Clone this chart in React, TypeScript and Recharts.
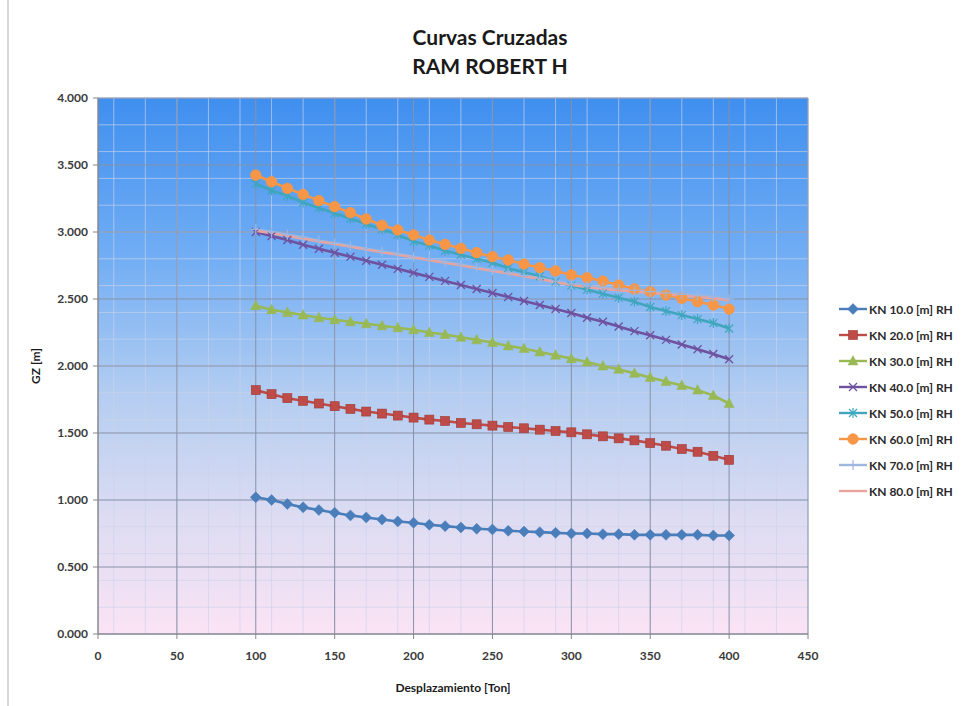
import React from 'react';
import { LineChart, Line, XAxis, YAxis, CartesianGrid } from 'recharts';

// ---- data ----
const DISPLACEMENT = [100, 110, 120, 130, 140, 150, 160, 170, 180, 190, 200, 210, 220, 230, 240, 250, 260, 270, 280, 290, 300, 310, 320, 330, 340, 350, 360, 370, 380, 390, 400];

const KN10 = [1.02, 1.0, 0.97, 0.945, 0.925, 0.905, 0.885, 0.87, 0.855, 0.84, 0.83, 0.815, 0.805, 0.795, 0.785, 0.78, 0.77, 0.765, 0.76, 0.755, 0.75, 0.75, 0.745, 0.745, 0.74, 0.74, 0.74, 0.74, 0.74, 0.735, 0.735];
const KN20 = [1.82, 1.79, 1.76, 1.74, 1.72, 1.7, 1.68, 1.66, 1.645, 1.63, 1.615, 1.6, 1.59, 1.575, 1.565, 1.555, 1.545, 1.535, 1.525, 1.515, 1.505, 1.49, 1.475, 1.46, 1.445, 1.425, 1.405, 1.38, 1.36, 1.33, 1.3];
const KN30 = [2.45, 2.42, 2.4, 2.38, 2.36, 2.345, 2.33, 2.315, 2.3, 2.285, 2.27, 2.25, 2.235, 2.215, 2.195, 2.175, 2.15, 2.13, 2.105, 2.08, 2.055, 2.03, 2.0, 1.975, 1.945, 1.915, 1.885, 1.855, 1.82, 1.78, 1.72];
const KN40 = [3.0, 2.97, 2.94, 2.905, 2.875, 2.845, 2.815, 2.785, 2.755, 2.725, 2.695, 2.665, 2.635, 2.605, 2.575, 2.545, 2.515, 2.485, 2.455, 2.425, 2.395, 2.36, 2.33, 2.295, 2.26, 2.23, 2.195, 2.16, 2.125, 2.09, 2.05];
const KN50 = [3.36, 3.31, 3.27, 3.22, 3.18, 3.14, 3.1, 3.06, 3.02, 2.98, 2.93, 2.9, 2.86, 2.83, 2.8, 2.77, 2.73, 2.7, 2.67, 2.63, 2.6, 2.57, 2.54, 2.51, 2.48, 2.44, 2.41, 2.38, 2.35, 2.32, 2.28];
const KN60 = [3.425, 3.375, 3.326, 3.281, 3.234, 3.189, 3.144, 3.097, 3.05, 3.015, 2.978, 2.94, 2.908, 2.878, 2.846, 2.816, 2.791, 2.761, 2.734, 2.709, 2.679, 2.659, 2.634, 2.604, 2.575, 2.555, 2.53, 2.505, 2.48, 2.455, 2.425];
const KN70 = [3.02, 3.0, 2.98, 2.96, 2.935, 2.915, 2.895, 2.875, 2.855, 2.835, 2.815, 2.795, 2.775, 2.755, 2.735, 2.715, 2.695, 2.675, 2.655, 2.632, 2.612, 2.597, 2.585, 2.575, 2.565, 2.555, 2.545, 2.535, 2.525, 2.515, 2.5];
const KN80 = [3.01, 2.99, 2.97, 2.95, 2.93, 2.91, 2.89, 2.87, 2.85, 2.83, 2.81, 2.79, 2.77, 2.75, 2.73, 2.71, 2.69, 2.67, 2.65, 2.625, 2.605, 2.59, 2.575, 2.565, 2.555, 2.545, 2.535, 2.525, 2.515, 2.505, 2.49];

const X_TICKS = [0, 50, 100, 150, 200, 250, 300, 350, 400, 450];
const Y_TICKS = [0, 0.5, 1, 1.5, 2, 2.5, 3, 3.5, 4];
const X_MINOR_STEP = 10;
const Y_MINOR_STEP = 0.1;

const TITLE_1 = 'Curvas Cruzadas';
const TITLE_2 = 'RAM ROBERT H';
const X_LABEL = 'Desplazamiento [Ton]';
const Y_LABEL = 'GZ [m]';

type Shape = 'diamond' | 'square' | 'triangle' | 'x' | 'star' | 'circle' | 'plus' | 'none';

const SERIES: { key: string; name: string; color: string; shape: Shape; values: number[] }[] = [
  { key: 'kn10', name: 'KN 10.0 [m] RH', color: '#4A7EBB', shape: 'diamond', values: KN10 },
  { key: 'kn20', name: 'KN 20.0 [m] RH', color: '#BE4B48', shape: 'square', values: KN20 },
  { key: 'kn30', name: 'KN 30.0 [m] RH', color: '#98B954', shape: 'triangle', values: KN30 },
  { key: 'kn40', name: 'KN 40.0 [m] RH', color: '#6E52A0', shape: 'x', values: KN40 },
  { key: 'kn50', name: 'KN 50.0 [m] RH', color: '#3FA6BE', shape: 'star', values: KN50 },
  { key: 'kn60', name: 'KN 60.0 [m] RH', color: '#F79646', shape: 'circle', values: KN60 },
  { key: 'kn70', name: 'KN 70.0 [m] RH', color: '#9DB7E0', shape: 'plus', values: KN70 },
  { key: 'kn80', name: 'KN 80.0 [m] RH', color: '#E6A3A0', shape: 'none', values: KN80 },
];

const DATA = DISPLACEMENT.map((x, i) => {
  const row: Record<string, number> = { x };
  SERIES.forEach((s) => {
    row[s.key] = s.values[i];
  });
  return row;
});

const range = (start: number, end: number, step: number) => {
  const out: number[] = [];
  for (let i = 0; start + i * step <= end + 1e-9; i++) out.push(+(start + i * step).toFixed(4));
  return out;
};
const X_MINOR = range(0, 450, X_MINOR_STEP);
const Y_MINOR = range(0, 4, Y_MINOR_STEP);

const FONT = "Lato, 'Open Sans', 'DejaVu Sans', sans-serif";

function Marker({ shape, color, cx, cy }: { shape: Shape; color: string; cx: number; cy: number }) {
  switch (shape) {
    case 'diamond':
      return <polygon points={`${cx},${cy - 5.5} ${cx + 5.5},${cy} ${cx},${cy + 5.5} ${cx - 5.5},${cy}`} fill={color} stroke={color} strokeWidth={0.5} />;
    case 'square':
      return <rect x={cx - 4.5} y={cy - 4.5} width={9} height={9} fill={color} stroke="#9c3a37" strokeWidth={0.6} />;
    case 'triangle':
      return <polygon points={`${cx},${cy - 5.5} ${cx + 5},${cy + 4} ${cx - 5},${cy + 4}`} fill={color} stroke={color} strokeWidth={0.5} />;
    case 'x':
      return (
        <g stroke={color} strokeWidth={1.3}>
          <line x1={cx - 4} y1={cy - 4} x2={cx + 4} y2={cy + 4} />
          <line x1={cx - 4} y1={cy + 4} x2={cx + 4} y2={cy - 4} />
        </g>
      );
    case 'star':
      return (
        <g stroke={color} strokeWidth={1.2}>
          <line x1={cx - 4} y1={cy - 4} x2={cx + 4} y2={cy + 4} />
          <line x1={cx - 4} y1={cy + 4} x2={cx + 4} y2={cy - 4} />
          <line x1={cx} y1={cy - 5} x2={cx} y2={cy + 5} />
        </g>
      );
    case 'circle':
      return <circle cx={cx} cy={cy} r={5.4} fill={color} stroke={color} strokeWidth={0.5} />;
    case 'plus':
      return (
        <g stroke={color} strokeWidth={1.2}>
          <line x1={cx - 5} y1={cy} x2={cx + 5} y2={cy} />
          <line x1={cx} y1={cy - 5} x2={cx} y2={cy + 5} />
        </g>
      );
    default:
      return null;
  }
}

export default function App() {
  const tickStyle = { fontSize: 12, fill: '#3a3a3a', fontFamily: FONT, fontWeight: 700 };
  return (
    <div style={{ position: 'absolute', left: 0, top: 0, width: 966, height: 706, background: '#ffffff', fontFamily: FONT }}>
      <div style={{ position: 'absolute', left: 7, top: 0, width: 2, height: 706, background: '#d6d6d6' }} />
      <div style={{ position: 'absolute', left: 290, width: 400, top: 22, textAlign: 'center', fontSize: 21, fontWeight: 700, color: '#1a1a1a', lineHeight: '29px' }}>
        <div>{TITLE_1}</div>
        <div>{TITLE_2}</div>
      </div>
      <LineChart width={966} height={706} data={DATA} margin={{ top: 98, right: 158, bottom: 0, left: 8 }}>
        <defs>
          <linearGradient id="plotBg" x1="0" y1="0" x2="0" y2="1">
            <stop offset="0%" stopColor="#3f8fef" />
            <stop offset="30%" stopColor="#72aef4" />
            <stop offset="55%" stopColor="#b3cdf1" />
            <stop offset="78%" stopColor="#dcdcf2" />
            <stop offset="100%" stopColor="#fbe3f5" />
          </linearGradient>
        </defs>
        <CartesianGrid
          fill="url(#plotBg)"
          fillOpacity={1}
          stroke="rgba(205,210,235,0.65)"
          strokeWidth={1}
          verticalValues={X_MINOR}
          horizontalValues={Y_MINOR}
        />
        <CartesianGrid
          stroke="#8791a8"
          strokeWidth={1}
          verticalValues={X_TICKS}
          horizontalValues={Y_TICKS}
        />
        <XAxis
          type="number"
          dataKey="x"
          domain={[0, 450]}
          ticks={X_TICKS}
          height={72}
          tickSize={5}
          tickMargin={12}
          tick={tickStyle}
          stroke="#868686"
          tickLine={{ stroke: '#868686' }}
          axisLine={{ stroke: '#868686' }}
          allowDataOverflow
          label={{ value: X_LABEL, position: 'insideBottom', offset: 14, style: { fontSize: 12, fontWeight: 700, fill: '#1a1a1a', fontFamily: FONT } }}
        />
        <YAxis
          type="number"
          domain={[0, 4]}
          ticks={Y_TICKS}
          width={90}
          tickSize={5}
          tickMargin={5}
          tick={tickStyle}
          tickFormatter={(v: number) => v.toFixed(3)}
          stroke="#868686"
          tickLine={{ stroke: '#868686' }}
          axisLine={{ stroke: '#868686' }}
          allowDataOverflow
          label={{ value: Y_LABEL, position: 'center', angle: -90, dx: -17, style: { fontSize: 12, fontWeight: 700, fill: '#1a1a1a', fontFamily: FONT } }}
        />
        {SERIES.map((s) => (
          <Line
            key={s.key}
            type="linear"
            dataKey={s.key}
            name={s.name}
            stroke={s.color}
            strokeWidth={2.6}
            isAnimationActive={false}
            activeDot={false}
            dot={
              s.shape === 'none'
                ? false
                : (p: any) => <Marker key={`${s.key}-${p.index}`} shape={s.shape} color={s.color} cx={p.cx} cy={p.cy} />
            }
          />
        ))}
      </LineChart>
      <div style={{ position: 'absolute', left: 838, top: 296 }}>
        {SERIES.map((s) => (
          <div key={s.key} style={{ display: 'flex', alignItems: 'center', height: 26 }}>
            <svg width={30} height={14} style={{ display: 'block' }}>
              <line x1={1} y1={7} x2={29} y2={7} stroke={s.color} strokeWidth={2.4} />
              <Marker shape={s.shape} color={s.color} cx={15} cy={7} />
            </svg>
            <span style={{ fontSize: 12, fontWeight: 700, color: '#2a2a2a', marginLeft: 1, whiteSpace: 'nowrap' }}>{s.name}</span>
          </div>
        ))}
      </div>
    </div>
  );
}
